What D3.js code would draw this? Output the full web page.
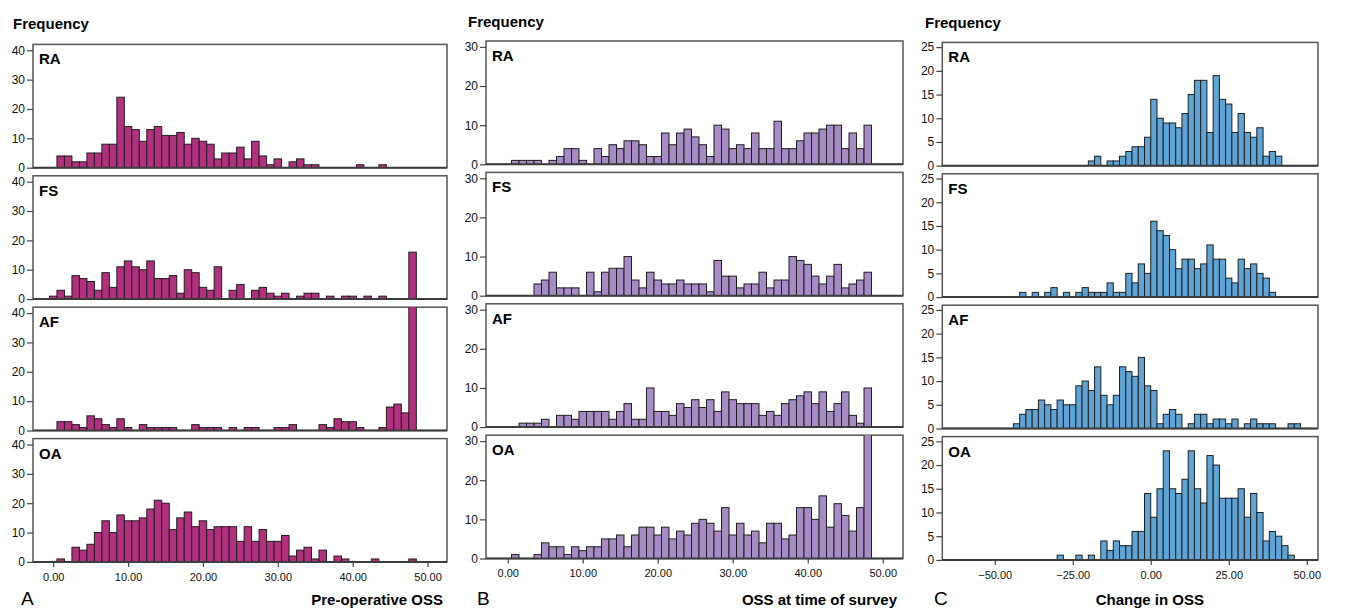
<!DOCTYPE html>
<html>
<head>
<meta charset="utf-8">
<script src="https://cdn.jsdelivr.net/npm/d3@7/dist/d3.min.js"></script>
<style>
  body { margin: 0; background: #fff; }
  svg { display: block; font-family: "Liberation Sans", Arial, sans-serif; }
</style>
</head>
<body>
<div id="chart"></div>
<script>
"use strict";

// Groups, top to bottom in every column
const groups = ["RA", "FS", "AF", "OA"];

// OSS histograms: one bin per score, centred on 0..48
const ossBins = d3.range(0, 49);
const ossTicks = [0, 10, 20, 30, 40, 50];

// Change histograms: bins two points wide, left edges -44..46
const changeBins = d3.range(-44, 48, 2);
const changeTicks = [-50, -25, 0, 25, 50];

// A - pre-operative OSS
const preOpRA = [0,4,4,2,2, 5,5,8,8,24, 14,13,9,13,14, 11,11,12,8,10, 9,8,3,5,5, 7,3,9,4,1, 3,0,2,3,1, 1,0,0,0,0, 0,1,0,0,1, 0,0,0,0];
const preOpFS = [1,3,1,8,7, 6,3,9,4,11, 13,11,10,13,7, 7,8,2,10,9, 4,3,11,0,3, 5,0,3,4,2, 1,2,0,1,2, 2,0,1,0,1, 1,0,1,0,1, 0,0,0,16];
const preOpAF = [0,3,3,2,1, 5,4,2,1,4, 1,0,2,1,1, 1,1,0,0,2, 1,1,1,0,1, 0,1,1,0,0, 1,1,2,0,0, 0,2,1,4,3, 3,1,0,0,1, 8,9,6,47];
const preOpOA = [0,1,0,5,4, 6,10,14,10,16, 14,14,15,18,21, 20,11,15,17,12, 14,11,12,12,12, 7,12,7,11,7, 7,9,2,4,5, 1,4,0,2,1, 0,0,0,1,0, 0,0,0,1];

// B - OSS at time of survey
const surveyRA = [0,1,1,1,1, 0,1,2,4,4, 1,0,4,2,5, 4,6,6,5,2, 2,8,5,8,9, 7,5,2,10,9, 4,5,4,8,4, 4,11,4,4,6, 8,8,9,10,10, 4,8,4,10];
const surveyFS = [0,0,0,0,3, 4,6,2,2,2, 0,6,1,6,7, 7,10,4,2,6, 4,3,3,4,3, 3,3,1,9,5, 5,2,3,3,6, 2,4,4,10,9, 8,5,3,5,8, 2,3,4,6];
const surveyAF = [0,0,1,1,1, 2,0,3,3,2, 4,4,4,4,2, 4,6,2,2,10, 4,4,3,6,5, 7,5,7,4,9, 7,6,6,6,3, 4,3,6,7,8, 9,6,9,4,6, 9,3,1,10];
const surveyOA = [0,1,0,0,1, 4,3,3,1,3, 2,3,3,5,5, 6,3,6,8,8, 6,8,5,7,6, 9,10,9,7,13, 6,9,6,7,4, 9,9,5,6,13, 13,10,16,8,14, 11,7,13,34];

// C - change in OSS
const changeRA = [0,0,0,0,0,0,0,0,0,0, 0,0,1,2,0,1,1,2,3,4, 4,6,14,10,9,9,8,11,15,18, 18,7,19,14,13,7,11,7,6,8, 2,3,2,0,0,0];
const changeFS = [0,1,0,1,0,1,2,0,1,0, 1,2,1,1,1,3,1,1,5,3, 7,5,16,14,13,10,6,8,8,6, 7,11,8,8,4,3,8,6,7,5, 4,1,0,0,0,0];
const changeAF = [1,3,4,4,6,5,4,6,5,5, 9,10,8,13,7,5,7,13,12,11, 15,9,8,1,3,4,3,0,1,3, 3,1,2,2,1,2,0,1,2,1, 1,1,0,0,1,1];
const changeOA = [0,0,0,0,0,0,0,1,0,0, 1,0,1,0,4,2,4,3,3,6, 6,14,9,15,23,15,14,17,23,15, 12,22,20,13,13,13,15,9,14,10, 4,6,5,3,1,0];

const width = 1348, height = 611;
const panelStep = 131.4, panelHeight = 123.3;

// Layout of the three columns
const columns = [
    {
        letter: "A", title: "Pre-operative OSS", fill: "#b3307f",
        series: [preOpRA, preOpFS, preOpAF, preOpOA],
        bins: ossBins, binLo: -0.5, binHi: 0.5,
        xDomain: [-2.7, 52.6], xTicks: ossTicks, yMax: 42, yTicks: [0, 10, 20, 30, 40],
        left: 33, right: 447, firstBottom: 167.7,
        freqX: 13, freqY: 29, titleX: 443, letterX: 21
    },
    {
        letter: "B", title: "OSS at time of survey", fill: "#a68bc4",
        series: [surveyRA, surveyFS, surveyAF, surveyOA],
        bins: ossBins, binLo: -0.5, binHi: 0.5,
        xDomain: [-2.9, 52.7], xTicks: ossTicks, yMax: 31.5, yTicks: [0, 10, 20, 30],
        left: 486, right: 903, firstBottom: 164.3,
        freqX: 468, freqY: 27, titleX: 897, letterX: 477
    },
    {
        letter: "C", title: "Change in OSS", fill: "#5fa4d6",
        series: [changeRA, changeFS, changeAF, changeOA],
        bins: changeBins, binLo: 0, binHi: 2,
        xDomain: [-66.8, 53.6], xTicks: changeTicks, yMax: 26, yTicks: [0, 5, 10, 15, 20, 25],
        left: 942.3, right: 1318, firstBottom: 165.7,
        freqX: 925, freqY: 28, titleX: 1204, letterX: 934
    }
];

const svg = d3.select("#chart").append("svg")
    .attr("width", width)
    .attr("height", height);

const defs = svg.append("defs");
const tickFmt = d3.format(".2f");

columns.forEach((col, ci) => {
    let x = d3.scaleLinear().domain(col.xDomain).range([col.left, col.right]);
    let g = svg.append("g").attr("class", "column-" + col.letter);

    // "Frequency" heading
    g.append("text")
        .attr("x", col.freqX)
        .attr("y", col.freqY)
        .style("font-size", "15px")
        .style("font-weight", "bold")
        .text("Frequency");

    groups.forEach((grp, gi) => {
        let bottom = col.firstBottom + gi * panelStep;
        let top = bottom - panelHeight;
        let y = d3.scaleLinear().domain([0, col.yMax]).range([bottom, top]);
        let counts = col.series[gi];

        let clipId = "clip-" + ci + "-" + gi;
        defs.append("clipPath").attr("id", clipId)
            .append("rect")
            .attr("x", col.left)
            .attr("y", top)
            .attr("width", col.right - col.left)
            .attr("height", panelHeight);

        let p = g.append("g").attr("class", "panel");

        // Frame
        p.append("rect")
            .attr("x", col.left)
            .attr("y", top)
            .attr("width", col.right - col.left)
            .attr("height", panelHeight)
            .style("fill", "#fff")
            .style("stroke", "#555")
            .style("stroke-width", 1.5);

        // Bars
        let bars = col.bins.map((b, i) => ({ b: b, n: counts[i] })).filter(d => d.n > 0);
        p.append("g")
            .attr("clip-path", "url(#" + clipId + ")")
            .selectAll("rect")
            .data(bars)
            .enter().append("rect")
            .attr("x", d => x(d.b + col.binLo))
            .attr("y", d => y(d.n))
            .attr("width", d => x(d.b + col.binHi) - x(d.b + col.binLo))
            .attr("height", d => y(0) - y(d.n))
            .style("fill", col.fill)
            .style("stroke", "#1e1e1e")
            .style("stroke-width", 1);

        // Baseline
        p.append("line")
            .attr("x1", col.left).attr("x2", col.right)
            .attr("y1", bottom).attr("y2", bottom)
            .style("stroke", "#3c3c3c")
            .style("stroke-width", 2);

        // Y axis
        let yAxis = p.append("g")
            .attr("transform", "translate(" + col.left + ",0)")
            .call(d3.axisLeft(y).tickValues(col.yTicks).tickSize(6).tickPadding(2).tickFormat(d3.format("d")));
        yAxis.select(".domain").remove();
        yAxis.selectAll("line").style("stroke", "#444").style("stroke-width", 1.2);
        yAxis.selectAll("text")
            .style("font-family", "'Liberation Sans', Arial, sans-serif")
            .style("font-size", "12px")
            .style("fill", "#111");

        // Group label
        p.append("text")
            .attr("x", col.left + 6)
            .attr("y", top + 20)
            .style("font-size", "15px")
            .style("font-weight", "bold")
            .text(grp);

        // X axis only under the last panel
        if (gi === groups.length - 1) {
            let xAxis = p.append("g")
                .attr("transform", "translate(0," + bottom + ")")
                .call(d3.axisBottom(x).tickValues(col.xTicks).tickSize(5).tickPadding(6).tickFormat(tickFmt));
            xAxis.select(".domain").remove();
            xAxis.selectAll("line").style("stroke", "#444").style("stroke-width", 1.2);
            xAxis.selectAll("text")
                .style("font-family", "'Liberation Sans', Arial, sans-serif")
                .style("font-size", "11px")
                .style("fill", "#111");

            g.append("text")
                .attr("x", col.titleX)
                .attr("y", 605)
                .attr("text-anchor", "end")
                .style("font-size", "15px")
                .style("font-weight", "bold")
                .text(col.title);

            g.append("text")
                .attr("x", col.letterX)
                .attr("y", 605)
                .style("font-size", "19px")
                .text(col.letter);
        }
    });
});
</script>
</body>
</html>
